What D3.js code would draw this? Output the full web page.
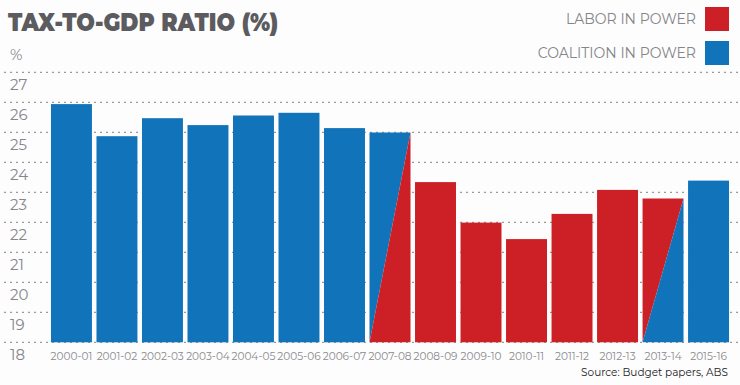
<!DOCTYPE html>
<html>
<head>
<meta charset="utf-8">
<script src="https://cdn.jsdelivr.net/npm/d3@7"></script>
<style>
  body { margin: 0; background: #fdfdfd; }
  svg { display: block; font-family: "Montserrat", "Lato", "Open Sans", sans-serif; }
</style>
</head>
<body>
<div id="chart"></div>
<script>
// chart data
var years = ["2000-01", "2001-02", "2002-03", "2003-04", "2004-05", "2005-06", "2006-07",
             "2007-08", "2008-09", "2009-10", "2010-11", "2011-12", "2012-13", "2013-14", "2015-16"];
var ratios = [25.94, 24.87, 25.47, 25.24, 25.56, 25.65, 25.14,
              24.99, 23.34, 21.99, 21.44, 22.28, 23.08, 22.79, 23.39];
// who was in power: "C" coalition, "L" labor, "CL" coalition->labor, "LC" labor->coalition
var government = ["C", "C", "C", "C", "C", "C", "C", "CL", "L", "L", "L", "L", "L", "LC", "C"];
var yTicks = [18, 19, 20, 21, 22, 23, 24, 25, 26, 27];
var legendLabels = ["LABOR IN POWER", "COALITION IN POWER"];

var BLUE = "#1173b9", RED = "#cd2026";

var width = 740, height = 385;

var svg = d3.select("#chart").append("svg")
    .attr("width", width)
    .attr("height", height);

var x = d3.scaleBand()
    .domain(years)
    .range([48.7, 731.3])
    .paddingInner(0.1)
    .paddingOuter(0.05);

var y = d3.scaleLinear()
    .domain([18, 27])
    .range([342.3, 72.3]);

// title
svg.append("text")
    .attr("x", 8)
    .attr("y", 31)
    .attr("fill", "#5b5b60")
    .attr("font-size", 25)
    .attr("font-weight", 900)
    .attr("textLength", 270)
    .attr("lengthAdjust", "spacingAndGlyphs")
    .text("TAX-TO-GDP RATIO (%)");

// legend
var legendColors = [RED, BLUE];
legendLabels.forEach(function(label, i) {
    var cy = 19 + i * 34;
    svg.append("rect")
        .attr("x", 705).attr("y", cy - 12)
        .attr("width", 24).attr("height", 24)
        .attr("fill", legendColors[i]);
    svg.append("text")
        .attr("x", 696).attr("y", cy + 5)
        .attr("text-anchor", "end")
        .attr("fill", "#85858a")
        .attr("font-size", 14)
        .text(label);
});

// gridlines
svg.append("g")
  .selectAll("line")
  .data(yTicks)
  .enter().append("line")
    .attr("x1", 4).attr("x2", 740)
    .attr("y1", function(d) { return y(d); })
    .attr("y2", function(d) { return y(d); })
    .attr("stroke", "#9a9a9a")
    .attr("stroke-width", 1.2)
    .attr("stroke-dasharray", "2,4");

// y labels sit just under their line
svg.append("g")
  .selectAll("text")
  .data(yTicks)
  .enter().append("text")
    .attr("x", 10)
    .attr("y", function(d) { return y(d) + 18; })
    .attr("fill", "#85858a")
    .attr("font-size", 15)
    .text(function(d) { return d; });

svg.append("text")
    .attr("x", 10)
    .attr("y", y(28) + 18)
    .attr("fill", "#85858a")
    .attr("font-size", 15)
    .text("%");

// bars
var bars = svg.append("g");
years.forEach(function(yr, i) {
    var x0 = x(yr), x1 = x(yr) + x.bandwidth();
    var top = y(ratios[i]), bottom = y(18);
    var g = government[i];
    if (g === "C" || g === "L") {
        bars.append("rect")
            .attr("x", x0).attr("y", top)
            .attr("width", x.bandwidth()).attr("height", bottom - top)
            .attr("fill", g === "C" ? BLUE : RED);
    } else {
        var upper = g === "CL" ? BLUE : RED;
        var lower = g === "CL" ? RED : BLUE;
        bars.append("path")
            .attr("d", d3.line()([[x0, top], [x1, top], [x0, bottom]]) + "Z")
            .attr("fill", upper);
        bars.append("path")
            .attr("d", d3.line()([[x0, bottom], [x1, top], [x1, bottom]]) + "Z")
            .attr("fill", lower);
    }
});

// x labels
svg.append("g")
  .selectAll("text")
  .data(years)
  .enter().append("text")
    .attr("x", function(d) { return x(d) + x.bandwidth() / 2; })
    .attr("y", 360)
    .attr("text-anchor", "middle")
    .attr("fill", "#8a8a8f")
    .attr("font-size", 10.5)
    .text(function(d) { return d; });

// source
svg.append("text")
    .attr("x", 728)
    .attr("y", 376)
    .attr("text-anchor", "end")
    .attr("fill", "#222")
    .attr("font-size", 10.5)
    .text("Source: Budget papers, ABS");
</script>
</body>
</html>
